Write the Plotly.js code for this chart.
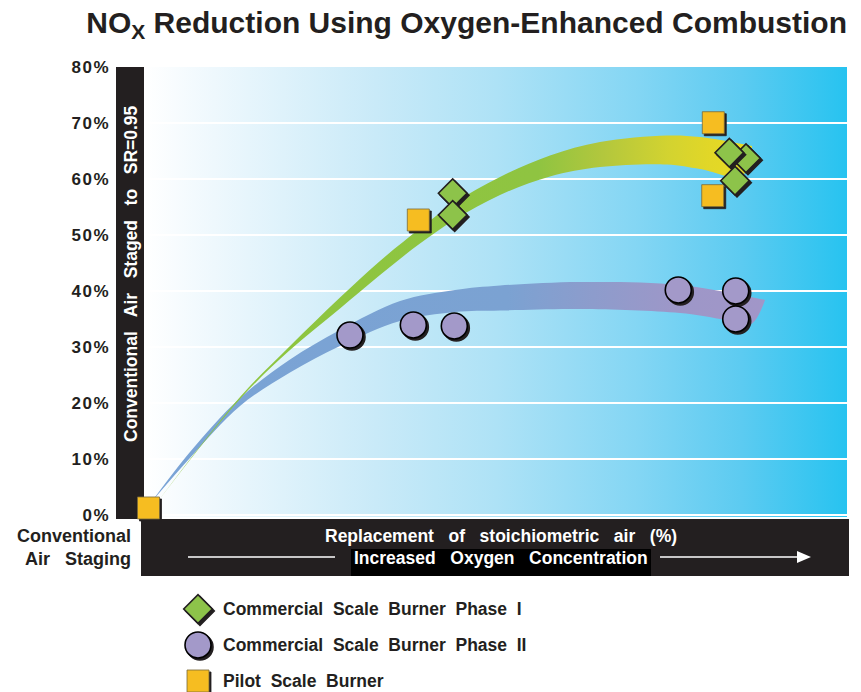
<!DOCTYPE html>
<html><head><meta charset="utf-8">
<script src="https://cdn.plot.ly/plotly-3.0.1.min.js"></script>
<style>
html,body{margin:0;padding:0;background:#fff;}
#chart{width:861px;height:692px;}
.js-plotly-plot .scatterlayer .point{filter:drop-shadow(2px 2px 0 #231f20);}
.js-plotly-plot .ytick text{letter-spacing:1.5px;}
</style></head><body><div id="chart"></div><script>
// ---- axis ticks ----
const yTickVals = [0, 10, 20, 30, 40, 50, 60, 70, 80];
const yTickText = ['0%', '10%', '20%', '30%', '40%', '50%', '60%', '70%', '80%'];
const gridVals = [0, 10, 20, 30, 40, 50, 60, 70];
const xRange = [0, 100];
const yRange = [-0.36, 80];

// ---- series (x = relative replacement of stoichiometric air, y = NOx reduction %) ----
const seriesNames = ['Commercial  Scale  Burner  Phase  I', 'Commercial  Scale  Burner  Phase  II', 'Pilot  Scale  Burner'];
const phase1X = [43.91, 43.91, 85.63, 83.26, 84.07];
const phase1Y = [57.45, 53.57, 63.7, 64.7, 59.7];
const phase2X = [29.3, 38.31, 44.14, 76.0, 84.17, 84.17];
const phase2Y = [32.14, 33.93, 33.75, 40.18, 40.0, 35.0];
const pilotX = [0.64, 39.02, 80.98, 80.9];
const pilotY = [1.25, 52.68, 70.05, 57.02];

// ---- trend ribbons (upper and lower edges; both share start point and upper tip) ----
const phase1BandUpperX = [2.13, 13.66, 20.77, 27.88, 33.57, 39.26, 44.24, 50.64, 57.75, 64.86, 74.4, 79.09, 86.49];
const phase1BandUpperY = [2.68, 21.07, 30.18, 38.84, 45.36, 51.16, 55.8, 60.36, 64.2, 66.61, 67.77, 67.5, 65.89];
const phase1BandLowerX = [2.13, 13.66, 20.77, 27.88, 33.57, 39.26, 44.24, 50.64, 57.75, 64.86, 74.4, 79.09, 85.06, 86.49];
const phase1BandLowerY = [2.68, 20.71, 29.46, 36.88, 42.86, 48.48, 52.77, 57.14, 60.45, 62.14, 62.59, 61.79, 60.54, 65.89];
const phase2BandUpperX = [1.0, 6.54, 13.66, 20.77, 27.88, 36.42, 44.24, 50.64, 62.02, 76.24, 88.34];
const phase2BandUpperY = [2.23, 11.25, 20.89, 27.77, 33.04, 38.21, 40.18, 40.98, 41.61, 41.07, 38.39];
const phase2BandLowerX = [1.0, 6.54, 13.66, 20.77, 27.88, 36.42, 44.24, 50.64, 62.02, 76.24, 81.93, 86.2, 88.34];
const phase2BandLowerY = [2.23, 10.18, 19.46, 25.45, 30.18, 34.64, 36.25, 36.52, 36.79, 36.07, 35.0, 33.93, 38.39];

// ---- colours ----
const bgScale = [[0, '#ffffff'], [0.1, '#eef8fd'], [0.33, '#c9eaf8'], [0.5, '#aee2f6'], [0.7, '#84d6f4'], [0.85, '#5ccbf1'], [1, '#27c3f0']];
const greenScale = [[0, '#8dc63f'], [0.64, '#8fc441'], [0.75, '#b3c73d'], [0.86, '#d3d330'], [0.93, '#e2d727'], [1, '#e8db22']];
const blueScale = [[0, '#7aa4d6'], [0.58, '#7ba2d2'], [0.72, '#8d9ccc'], [0.85, '#9d97c8'], [1, '#a196c8']];
const INK = '#231f20';

// ---- pixel helpers for the page furniture (paper coords) ----
const PW = 847, PT = 67, PH = 692 - 67;
const X = px => px / PW;
const Y = py => (692 - py) / PH;

const FONT = 'Liberation Sans, Arial, sans-serif';
const bold = (size, color) => ({family: FONT, size: size, color: color, weight: 'bold'});

const traces = [];
// background gradient
traces.push({
  x: [xRange[0], xRange[1], xRange[1], xRange[0]],
  y: [yRange[0], yRange[0], yRange[1], yRange[1]],
  mode: 'lines', fill: 'toself', line: {width: 0},
  fillgradient: {type: 'horizontal', colorscale: bgScale},
  hoverinfo: 'skip', showlegend: false
});
// grid lines
const gx = [], gy = [];
gridVals.forEach(v => { gx.push(xRange[0], xRange[1], null); gy.push(v, v, null); });
traces.push({x: gx, y: gy, mode: 'lines', line: {color: '#ffffff', width: 2}, hoverinfo: 'skip', showlegend: false});
// ribbons: lower edge, then upper edge filled to it
function ribbon(lx, ly, ux, uy, scale) {
  traces.push({x: lx, y: ly, mode: 'lines', line: {width: 0, shape: 'spline', smoothing: 1}, hoverinfo: 'skip', showlegend: false});
  traces.push({x: ux, y: uy, mode: 'lines', fill: 'tonext', line: {width: 0, shape: 'spline', smoothing: 1},
    fillgradient: {type: 'horizontal', colorscale: scale}, hoverinfo: 'skip', showlegend: false});
}
ribbon(phase2BandLowerX, phase2BandLowerY, phase2BandUpperX, phase2BandUpperY, blueScale);
ribbon(phase1BandLowerX, phase1BandLowerY, phase1BandUpperX, phase1BandUpperY, greenScale);
// markers
const styles = [
  {symbol: 'diamond', size: 22, color: '#8dc34a', line: {color: INK, width: 1.6}},
  {symbol: 'circle', size: 26, color: '#a399c9', line: {color: '#000000', width: 1.6}},
  {symbol: 'square', size: 22, color: '#f6bd21', line: {color: '#7a6a3a', width: 0.8}}
];
traces.push({x: phase2X, y: phase2Y, mode: 'markers', marker: styles[1], cliponaxis: false, name: seriesNames[1], showlegend: false});
traces.push({x: pilotX, y: pilotY, mode: 'markers', marker: styles[2], cliponaxis: false, name: seriesNames[2], showlegend: false});
traces.push({x: phase1X, y: phase1Y, mode: 'markers', marker: styles[0], cliponaxis: false, name: seriesNames[0], showlegend: false});
// custom legend symbols
seriesNames.forEach((n, i) => {
  traces.push({x: [198 / PW], y: [i], xaxis: 'x2', yaxis: 'y2', mode: 'markers', marker: styles[i], cliponaxis: false, showlegend: false, hoverinfo: 'skip'});
});

const pa = {xref: 'paper', yref: 'paper', showarrow: false, xanchor: 'center', yanchor: 'middle'};
const annotations = [
  Object.assign({}, pa, {text: 'Conventional   Air   Staged   to   SR=0.95', x: X(131), y: Y(274), textangle: -90, font: bold(17.5, '#ffffff')}),
  Object.assign({}, pa, {text: 'Conventional<br>Air   Staging', x: X(133), y: Y(547), xanchor: 'right', align: 'right', font: bold(18, INK)}),
  Object.assign({}, pa, {text: 'Replacement   of   stoichiometric   air   (%)', x: X(501), y: Y(536), font: bold(17.5, '#ffffff')}),
  Object.assign({}, pa, {text: 'Increased   Oxygen   Concentration', x: X(501), y: Y(558), font: bold(17.5, '#ffffff')})
];
seriesNames.forEach((n, i) => {
  annotations.push({text: n, xref: 'paper', yref: 'y2', x: X(221), y: i, xanchor: 'left', yanchor: 'middle', showarrow: false, font: bold(17.5, INK)});
});

const shapes = [
  {type: 'rect', xref: 'paper', yref: 'paper', x0: X(116), x1: X(144), y0: Y(519), y1: Y(67), fillcolor: INK, line: {width: 0}, layer: 'below'},
  {type: 'rect', xref: 'paper', yref: 'paper', x0: X(141), x1: X(849), y0: Y(576), y1: Y(519), fillcolor: INK, line: {width: 0}, layer: 'below'},
  {type: 'rect', xref: 'paper', yref: 'paper', x0: X(351), x1: X(651), y0: Y(576), y1: Y(549), fillcolor: '#000000', line: {width: 0}, layer: 'below'},
  {type: 'line', xref: 'paper', yref: 'paper', x0: X(188), x1: X(335), y0: Y(557), y1: Y(557), line: {color: '#ffffff', width: 1.5}},
  {type: 'line', xref: 'paper', yref: 'paper', x0: X(660), x1: X(800), y0: Y(557), y1: Y(557), line: {color: '#ffffff', width: 1.5}},
  {type: 'path', xref: 'paper', yref: 'paper', path: `M ${X(797)} ${Y(551)} L ${X(811)} ${Y(557)} L ${X(797)} ${Y(563)} Z`, fillcolor: '#ffffff', line: {width: 0}}
];

const layout = {
  width: 861, height: 692,
  margin: {l: 0, r: 861 - PW, t: PT, b: 0},
  paper_bgcolor: '#ffffff', plot_bgcolor: 'rgba(0,0,0,0)',
  font: {family: FONT, color: INK},
  title: {text: 'NO<sub>X</sub> Reduction Using Oxygen-Enhanced Combustion', xref: 'paper', x: 1.0, xanchor: 'right',
          yref: 'container', y: 1 - 22 / 692, yanchor: 'middle', font: bold(30, INK)},
  xaxis: {domain: [144 / PW, 1], range: xRange, showgrid: false, zeroline: false, showticklabels: false, showline: false, ticks: '', fixedrange: true},
  yaxis: {domain: [Y(517), 1], range: yRange, showgrid: false, zeroline: false, showline: false, ticks: '',
          tickvals: yTickVals, ticktext: yTickText, ticklabelstandoff: 33,
          tickfont: bold(17, INK), fixedrange: true},
  xaxis2: {domain: [0, 1], range: [0, 1], visible: false, fixedrange: true},
  yaxis2: {domain: [0, 97 / PH], range: [2.306, -0.389], visible: false, fixedrange: true},
  showlegend: false, hovermode: false,
  shapes: shapes, annotations: annotations
};

Plotly.newPlot('chart', traces, layout, {displayModeBar: false, staticPlot: true});
</script></body></html>
